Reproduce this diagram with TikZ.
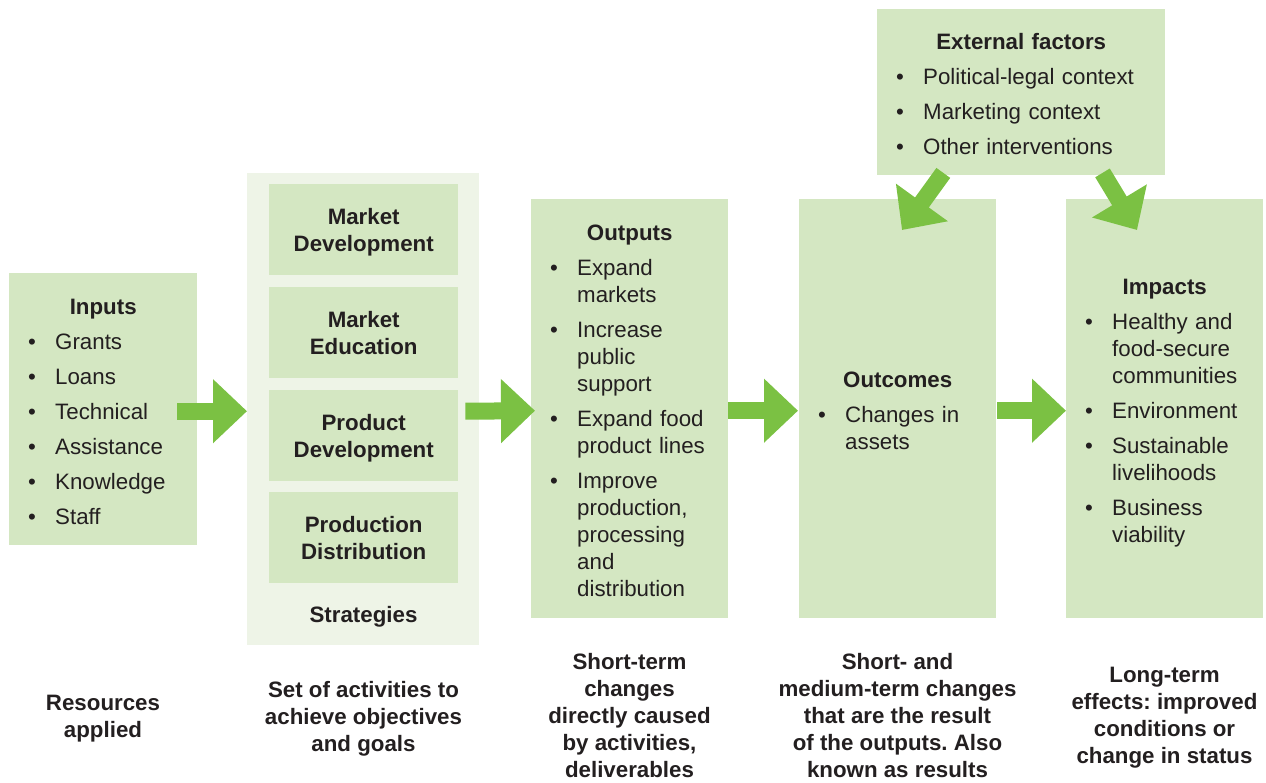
\documentclass[tikz,border=0pt]{standalone}
\usepackage{fontspec}
\setmainfont{Liberation Sans}
\usetikzlibrary{arrows.meta,calc}
\definecolor{boxg}{HTML}{D4E7C2}
\definecolor{panelg}{HTML}{EEF4E7}
\definecolor{arrg}{HTML}{7BC143}
\definecolor{txt}{HTML}{231F20}
\frenchspacing
\newcommand\fsz{\fontsize{22.3}{27}\selectfont}
\newcommand\itm[1]{\par\vskip8pt\noindent\makebox[27pt][l]{\textbullet}\parbox[t]{\dimexpr\linewidth-27pt\relax}{\raggedright #1\strut}\par\prevdepth=\dp\strutbox}
\newcommand\ttl[1]{\noindent\rule{0pt}{28pt}\makebox[\linewidth][c]{\bfseries #1}}
\begin{document}
\begin{tikzpicture}[x=1pt,y=-1pt,
  every node/.style={text=txt, font=\fsz},
  gbox/.style={fill=boxg, anchor=north west, inner xsep=19pt, inner ysep=0pt, align=left},
  sbox/.style={fill=boxg, anchor=north west, inner sep=0pt, minimum width=189pt, minimum height=91pt, align=center, text depth=0pt, font=\fsz\bfseries},
  panel/.style={fill=panelg, anchor=north west, inner sep=0pt, minimum width=232pt, minimum height=472pt},
  lbl/.style={align=center, font=\fsz\bfseries},
  arr/.style={draw=arrg, line width=17pt, -{Triangle[length=34pt,width=62pt]}}]
\useasboundingbox (0,0) rectangle (1266,782);
% boxes
\node[gbox, minimum width=188pt, text width=150pt, minimum height=272pt] (inputs) at (9,273)
  {\ttl{Inputs}\itm{Grants}\itm{Loans}\itm{Technical}\itm{Assistance}\itm{Knowledge}\itm{Staff}};
\node[panel] (strat) at (247,173) {};
\node[sbox] (s1) at (269,184) {Market\\Development};
\node[sbox] (s2) at (269,287) {Market\\Education};
\node[sbox] (s3) at (269,390) {Product\\Development};
\node[sbox] (s4) at (269,492) {Production\\Distribution};
\node[lbl] (stitle) at (363.5,617) {Strategies};
\node[gbox, minimum width=197pt, text width=159pt, minimum height=419pt] (outputs) at (531,199)
  {\ttl{Outputs}\itm{Expand\\markets}\itm{Increase\\public\\support}\itm{Expand food\\product lines}\itm{Improve\\production,\\processing\\and\\distribution}};
\node[gbox, minimum width=197pt, text width=159pt, minimum height=419pt] (outcomes) at (799,199)
  {\ttl{Outcomes}\itm{Changes in\\assets}};
\node[gbox, minimum width=197pt, text width=159pt, minimum height=419pt] (impacts) at (1066,199)
  {\ttl{Impacts}\itm{Healthy and\\food-secure\\communities}\itm{Environment}\itm{Sustainable\\livelihoods}\itm{Business\\viability}};
\node[gbox, minimum width=288pt, text width=250pt, minimum height=166pt] (ext) at (877,9)
  {\ttl{External factors}\itm{Political-legal context}\itm{Marketing context}\itm{Other interventions}};
% arrows
\draw[arr] ($(inputs.east)+(-20,2)$) -- ($(strat.west)+(0,2)$);
\draw[arr] ($(strat.east)+(-14,2)$) -- ($(outputs.west)+(4,2)$);
\draw[arr] ($(outputs.east)+(0,2)$) -- ($(outcomes.west)+(-1,2)$);
\draw[arr] ($(outcomes.east)+(1,2)$) -- ($(impacts.west)+(0,2)$);
\coordinate (eL) at ($(ext.south west)+(66.3,-2.5)$);
\coordinate (eR) at ($(ext.south west)+(225.5,-2.5)$);
\draw[arr] (eL) -- ($(outcomes.north west)+(103,31)$);
\draw[arr] (eR) -- ($(impacts.north west)+(71,31)$);
% bottom labels
\node[lbl] (l1) at (103,719) {Resources\\applied};
\node[lbl] (l2) at (363.5,719) {Set of activities to\\achieve objectives\\and goals};
\node[lbl] (l3) at (629.5,716) {Short-term\\changes\\directly caused\\by activities,\\deliverables};
\node[lbl] (l4) at (897.5,716) {Short- and\\medium-term changes\\that are the result\\of the outputs. Also\\known as results};
\node[lbl] (l5) at (1164.5,718) {Long-term\\effects: improved\\conditions or\\change in status};
\end{tikzpicture}
\end{document}
